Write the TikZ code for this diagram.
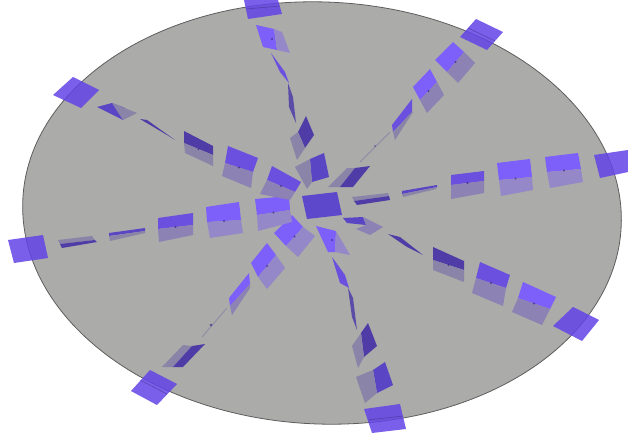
\documentclass[tikz,border=0pt]{standalone}
\usetikzlibrary{calc}
\definecolor{ground}{HTML}{ABABA9}
\definecolor{rimc}{HTML}{5E5E5E}
\definecolor{outerc}{HTML}{6243E6}
\definecolor{brt}{HTML}{7D5FFA}
\definecolor{midc}{HTML}{6B50E0}
\definecolor{deep}{HTML}{5A45C4}
\definecolor{drk}{HTML}{4F3CA6}
\definecolor{gryA}{HTML}{9488C8}
\definecolor{gryB}{HTML}{8C82B4}
\definecolor{gryC}{HTML}{8A84A8}
\definecolor{thinc}{HTML}{5B4CA8}
\definecolor{dotc}{HTML}{3A2C80}
\tikzset{
  outerpanel/.style={fill=outerc,fill opacity=.85,draw=none},
  foldline/.style={draw=dotc,line width=.5pt,opacity=.6},
  thinpanel/.style={fill=thinc,draw=none},
  hair/.style={draw=gryC,line width=.7pt},
  hub/.style={fill=deep!80!midc,draw=none},
  pivot/.style={fill=dotc,opacity=.75,draw=none}
}
% #1 first colour, #2 second colour, A B C D corners, P on D-A, Q on B-C
\newcommand\twotone[8]{%
  \fill[#1] (#3) -- (#4) -- (#8) -- (#7) -- cycle;
  \fill[#2] (#7) -- (#8) -- (#5) -- (#6) -- cycle;
}
\newcommand\panel[8]{%
  \twotone{#1}{#2}{#3}{#4}{#5}{#6}{#7}{#8}
  \fill[pivot] ($(#7)!.5!(#8)$) circle[radius=1.1];
}
\begin{document}
\begin{tikzpicture}[x=1pt,y=-1pt]
\useasboundingbox (0,0) rectangle (628,441);
\fill[white] (0,0) rectangle (628,441);
% disc
\filldraw[fill=ground,draw=rimc,line width=.8pt,rotate around={-2.5:(322,213)}] (322,213) ellipse[x radius=299.5,y radius=211];

% East
\fill[outerpanel] (594,155) -- (628,150) -- (628,172) -- (600,178) -- cycle;
\panel{brt}{gryA}{545,157}{578,153}{583,182}{550,188}{547,172}{581,169}
\panel{brt}{gryA}{497,163}{530,159}{533,190}{501,196}{499,180}{532,177}
\panel{midc}{gryB}{451,175}{484,171}{484,193}{451,199}{451,185}{484,181}
\twotone{deep}{gryC}{402,191}{437,185}{436,189}{403,197}{402,194}{437,187}
\twotone{gryC}{drk}{352,197}{388,193}{390,200}{357,205}{354,201}{389,196}

% South-east
\fill[outerpanel] (553,326) -- (573,307) -- (599,320) -- (582,341) -- cycle;
\panel{brt}{gryB}{523,282}{556,297}{542,325}{512,312}{518,298}{550,309}
\panel{midc}{gryB}{480,262}{510,275}{503,306}{472,293}{476,278}{506,288}
\panel{drk}{gryC}{433,247}{464,261}{464,282}{433,270}{433,260}{464,270}
\fill[drk] (388,234) -- (400,237) -- (423,255) -- (407,247) -- cycle;
\fill[deep] (343,218) -- (363,217) -- (366,225) -- (347,223) -- cycle;
\fill[gryB] (363,217) -- (383,227) -- (370,235) -- (356,229) -- (366,225) -- cycle;

% South
\fill[outerpanel] (364,409) -- (400,404) -- (406,429) -- (372,433) -- cycle;
\draw[foldline] (368,420) -- (403,416);
\fill[deep] (385,362) -- (393,385) -- (377,393) -- (373,370) -- cycle;
\fill[gryC] (373,370) -- (377,393) -- (365,403) -- (356,377) -- cycle;
\fill[drk] (368,323) -- (377,346) -- (364,357) -- (361,333) -- cycle;
\fill[gryC] (361,333) -- (364,357) -- (358,368) -- (352,346) -- cycle;
\fill[thinpanel] (348,288) -- (353,298) -- (357,330) -- (352,317) -- cycle;
\fill[midc] (332,257) -- (345,275) -- (349,288) -- (340,283) -- cycle;
\fill[brt] (316,226) -- (336,231) -- (335,252) -- (328,252) -- cycle;
\fill[gryA] (336,231) -- (350,255) -- (335,252) -- cycle;
\fill[pivot] (332,240) circle[radius=1.1];

% South-west
\fill[outerpanel] (131,391) -- (150,370) -- (177,384) -- (157,405) -- cycle;
\draw[foldline] (140,380) -- (167,394);
\fill[gryC] (192,346) -- (173,367) -- (162,367) -- (183,345) -- cycle;
\fill[drk] (205,344) -- (183,367) -- (173,367) -- (192,346) -- cycle;
\draw[hair] (227,308) -- (202,337);
\fill[pivot] (211,325) circle[radius=1.4];
\twotone{brt}{gryB}{229,298}{249,273}{250,288}{232,315}{230,306}{250,284}
\panel{brt}{gryA}{251,263}{267,243}{285,268}{267,289}{258,277}{276,255}
\panel{brt}{gryA}{274,233}{292,215}{315,236}{298,257}{286,246}{303,227}

% West
\fill[outerpanel] (8,240) -- (43,235) -- (48,258) -- (14,263) -- cycle;
\twotone{gryC}{drk}{58,240}{92,236}{97,242}{62,248}{60,244}{95,240}
\twotone{deep}{gryC}{109,233}{145,228}{145,233}{110,241}{109,236}{145,231}
\panel{midc}{gryB}{158,218}{193,213}{193,235}{159,242}{158,229}{193,225}
\panel{brt}{gryA}{206,207}{239,202}{243,233}{210,238}{207,222}{241,220}
\panel{brt}{gryA}{255,199}{289,196}{292,222}{258,231}{257,215}{290,210}

% North-west
\fill[outerpanel] (53,95) -- (73,77) -- (99,90) -- (81,108) -- cycle;
\fill[deep] (97,107) -- (112,103) -- (125,108) -- (123,120) -- cycle;
\fill[gryC] (112,103) -- (137,113) -- (123,120) -- cycle;
\fill[drk] (140,119) -- (147,120) -- (175,140) -- (167,135) -- cycle;
\panel{drk}{gryC}{184,131}{213,146}{213,166}{185,153}{184,143}{213,155}
\panel{midc}{gryB}{228,146}{258,158}{251,188}{222,176}{225,163}{253,172}
\panel{midc}{gryB}{272,166}{301,182}{290,200}{260,194}{267,180}{295,192}

% North
\fill[outerpanel] (244,0) -- (278,0) -- (282,14) -- (248,19) -- cycle;
\draw[foldline] (246,9) -- (280,6);
\fill[brt] (256,25) -- (274,29) -- (277,50) -- (263,47) -- cycle;
\fill[gryA] (274,29) -- (282,32) -- (290,53) -- (277,50) -- cycle;
\fill[pivot] (272,39) circle[radius=1.1];
\fill[midc] (271,53) -- (285,72) -- (289,83) -- (280,72) -- cycle;
\fill[thinpanel] (288,83) -- (293,97) -- (296,123) -- (289,107) -- cycle;
\fill[drk] (306,116) -- (314,135) -- (305,148) -- (298,132) -- cycle;
\fill[gryC] (298,132) -- (305,148) -- (297,160) -- (290,138) -- cycle;
\fill[deep] (324,153) -- (329,177) -- (312,182) -- (310,159) -- cycle;
\fill[gryC] (310,159) -- (312,182) -- (307,189) -- (295,167) -- cycle;

% North-east
\fill[outerpanel] (460,37) -- (476,19) -- (503,32) -- (487,50) -- cycle;
\draw[foldline] (468,28) -- (495,41);
\panel{brt}{gryB}{435,60}{453,42}{475,63}{458,83}{447,72}{464,52}
\panel{brt}{gryB}{413,87}{430,69}{444,95}{427,113}{420,100}{437,82}
\twotone{midc}{gryC}{392,125}{412,99}{413,112}{395,140}{393,132}{412,112}
\draw[hair] (390,132) -- (360,162);
\fill[pivot] (375,146) circle[radius=.9];
\fill[gryC] (355,168) -- (340,187) -- (328,187) -- (347,168) -- cycle;
\fill[drk] (370,166) -- (353,187) -- (340,187) -- (355,168) -- cycle;

% Hub panel
\fill[hub] (302,196) -- (337,192) -- (342,215) -- (307,219) -- cycle;
\end{tikzpicture}
\end{document}
